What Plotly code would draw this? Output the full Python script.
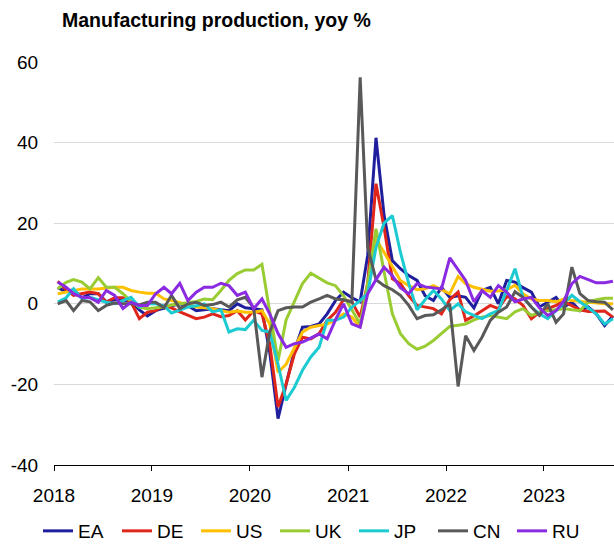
import pandas as pd
import plotly.graph_objects as go

start = "2018-01-01"
n_months = 69
dates = pd.date_range(start, periods=n_months, freq="MS") + pd.Timedelta(days=14)

series_names = ["EA", "DE", "US", "UK", "JP", "CN", "RU"]
series_colors = ["#1F1F9E", "#E0261B", "#FFC000", "#99CC33", "#1CCAD2", "#595959", "#8A2BE2"]

EA = [4.0, 3.0, 3.5, 1.5, 2.5, 2.5, 0.5, 1.0, 1.0, 0.5, -1.5, -3.0,
      -1.7, -1.0, -0.5, 0.0, -0.5, -1.7, -1.5, -1.2, -1.5, -1.7, 0.0, -1.0,
      -1.2, -1.5, -12.0, -28.5, -20.0, -11.6, -5.8, -5.6, -5.0, -2.5, 0.8, 2.9,
      1.5, 0.5, 12.0, 41.2, 22.0, 10.7, 8.7, 7.0, 5.8, 2.0, 0.8, 4.1,
      1.6, 2.0, 1.6, -1.0, 3.3, 4.1, 0.0, 5.8, 5.4, 4.0, 2.9, -0.8,
      0.4, 1.6, -0.8, 0.4, -1.7, -0.8, -2.5, -5.4, -3.0]

DE = [5.6, 3.5, 2.1, 2.5, 2.9, 2.5, 0.4, 1.5, 1.5, 0.5, -3.7, -2.1,
      -1.7, -0.4, -1.0, -2.0, -2.9, -3.7, -3.3, -2.5, -3.2, -2.9, -1.7, -4.0,
      -1.7, -2.5, -10.0, -25.6, -19.9, -12.4, -8.3, -8.7, -7.4, -4.1, -2.1, 1.0,
      0.5, -3.3, 5.0, 29.8, 19.0, 6.2, 5.0, 2.0, -0.4, -0.8, -1.2, -2.5,
      1.0, 2.9, -4.1, -3.0, -1.7, -0.4, -1.2, 1.8, 1.2, -0.4, -3.7, -2.1,
      -1.2, -0.4, 0.6, -0.5, -1.5, -1.9, -1.9, -1.8, -3.3]

US = [2.5, 2.9, 3.2, 3.7, 3.7, 3.7, 3.9, 4.1, 4.1, 3.3, 2.9, 2.6,
      2.6, 1.2, 0.8, 0.2, -0.2, -0.8, -1.0, -1.2, -1.7, -2.1, -1.8, -2.1,
      -2.1, -1.7, -5.0, -17.0, -15.0, -10.8, -7.0, -5.8, -5.4, -5.0, -4.0, -2.5,
      -3.3, -5.8, 3.0, 16.0, 12.8, 9.1, 5.8, 4.5, 3.5, 3.7, 4.5, 3.5,
      2.5, 6.8, 5.0, 4.1, 3.7, 3.1, 3.2, 3.5, 4.6, 2.5, 1.2, 0.8,
      0.8, 0.5, 1.2, 0.8, 0.6, 0.4, 0.2, 0.0, 0.0]

UK = [3.7, 5.3, 6.0, 5.4, 3.7, 6.5, 4.1, 4.1, 2.5, 0.6, -0.8, -1.2,
      -1.0, -0.8, -0.3, 0.0, 0.2, 0.6, 1.2, 1.0, 3.3, 5.8, 7.5, 8.4,
      8.4, 9.8, -2.0, -14.1, -4.0, 0.8, 5.0, 7.6, 6.3, 5.2, 4.5, 2.0,
      -1.5, -5.0, 5.0, 18.6, 8.0, -2.5, -7.4, -9.9, -11.3, -10.5, -9.1, -7.3,
      -5.6, -5.3, -5.0, -4.0, -3.3, -2.9, -3.3, -3.7, -2.0, -1.2, -2.9, -2.2,
      -1.7, -1.4, -1.2, -1.5, -1.7, 0.4, 1.0, 1.4, 1.4]

JP = [0.4, 1.5, 3.7, 1.2, 1.6, 1.0, 0.4, 0.0, 0.8, 1.6, -0.8, 0.0,
      0.0, -0.5, -2.3, -1.5, -0.8, -0.5, 0.0, -2.0, -1.5, -7.0, -6.2, -6.4,
      -4.1, -6.6, -7.0, -15.0, -24.0, -20.7, -16.5, -13.2, -10.8, -4.1, -4.1, -3.3,
      -0.8, 0.8, 2.5, 14.0, 20.0, 21.9, 12.8, 5.0, -1.5, 1.0, 3.3, 1.2,
      -1.7, 0.0, -2.0, -2.9, -3.7, -2.5, -1.7, 3.3, 8.7, 1.6, -0.8, -2.5,
      -3.7, -1.7, 0.0, 2.1, 0.5, -1.0, -2.5, -5.0, -3.7]

CN = [0.0, 0.8, -1.7, 0.8, 0.5, -1.7, -0.4, 0.2, 0.0, 0.0, -0.3, 0.4,
      0.4, -1.0, 2.1, -1.2, 0.0, 0.4, -0.4, -0.2, 0.4, -0.8, 1.0, 1.6,
      -1.0, -18.2, -7.0, -1.7, -1.0, -0.8, -0.8, 0.4, 1.2, 2.1, 1.2, 1.0,
      0.4, 56.2, 14.0, 6.0, 4.5, 3.5, 2.1, -0.4, -3.7, -2.9, -2.7, -1.5,
      0.0, -20.5, -7.9, -11.6, -8.3, -4.1, -2.1, -0.8, 3.0, 1.6, -0.8, -2.9,
      0.0, -4.6, -2.5, 9.1, 2.5, 0.8, 0.5, 0.4, -1.5]

RU = [5.4, 4.1, 2.5, 1.6, 1.5, 0.4, 3.3, 2.1, -1.2, 0.4, -0.4, -0.4,
      2.5, 4.1, 2.5, 5.1, 0.8, 2.9, 4.1, 4.1, 5.1, 4.5, 2.1, 2.9,
      -1.2, 1.2, -2.5, -7.4, -10.8, -9.9, -9.5, -8.5, -7.5, -8.7, -4.0, 0.0,
      -5.0, -5.8, 2.5, 6.0, 9.1, 7.0, 4.0, 2.5, 5.0, 4.2, 4.0, 3.7,
      11.4, 8.5, 5.8, 0.5, 3.3, 1.6, 4.5, 2.9, 0.5, 1.2, 1.6, -1.0,
      -2.9, -1.7, 0.6, 5.0, 6.8, 6.0, 5.2, 5.2, 5.6]

values = [EA, DE, US, UK, JP, CN, RU]

y_ticks = [-40, -20, 0, 20, 40, 60]
y_tick_labels = ["-40", "-20", "0", "20", "40", "60"]
year_ticks = ["2018", "2019", "2020", "2021", "2022", "2023"]

FONT = "Liberation Sans, Arial, sans-serif"

fig = go.Figure()
for name, color, vals in zip(series_names, series_colors, values):
    fig.add_trace(go.Scatter(x=dates, y=vals, name=name, mode="lines",
                             line=dict(color=color, width=3)))

fig.update_layout(
    width=614, height=547,
    margin=dict(l=54, r=0, t=62, b=82, autoexpand=False),
    paper_bgcolor="white", plot_bgcolor="white",
    font=dict(family=FONT, size=19, color="black"),
    title=dict(text="<b>Manufacturing production, yoy %</b>", xref="container", x=62/614,
               xanchor="left", yref="container", y=1-20/547, yanchor="middle",
               font=dict(family=FONT, size=19.5, color="black")),
    showlegend=True,
    legend=dict(orientation="h", xref="container", x=38/614, xanchor="left",
                yref="container", y=1-531/547, yanchor="middle",
                entrywidth=34, entrywidthmode="pixels", itemwidth=30,
                font=dict(family=FONT, size=19, color="black"), tracegroupgap=0),
)

fig.update_xaxes(
    type="date", range=["2018-01-01", "2023-09-19"],
    tickvals=[f"{y}-01-01" for y in year_ticks], ticktext=year_ticks,
    ticks="outside", ticklen=5, tickcolor="black", tickwidth=1,
    showline=True, linecolor="black", linewidth=1,
    showgrid=False, zeroline=False, ticklabelstandoff=8,
)
fig.update_yaxes(
    range=[-40, 60], tickvals=y_ticks, ticktext=y_tick_labels,
    showgrid=True, gridcolor="#D9D9D9", gridwidth=1.3,
    zeroline=False, showline=False,
    ticks="outside", ticklen=11, tickcolor="rgba(0,0,0,0)",
)

fig.write_html("out.html", config={"displayModeBar": False},
               post_script="document.body.style.margin='0px';")
